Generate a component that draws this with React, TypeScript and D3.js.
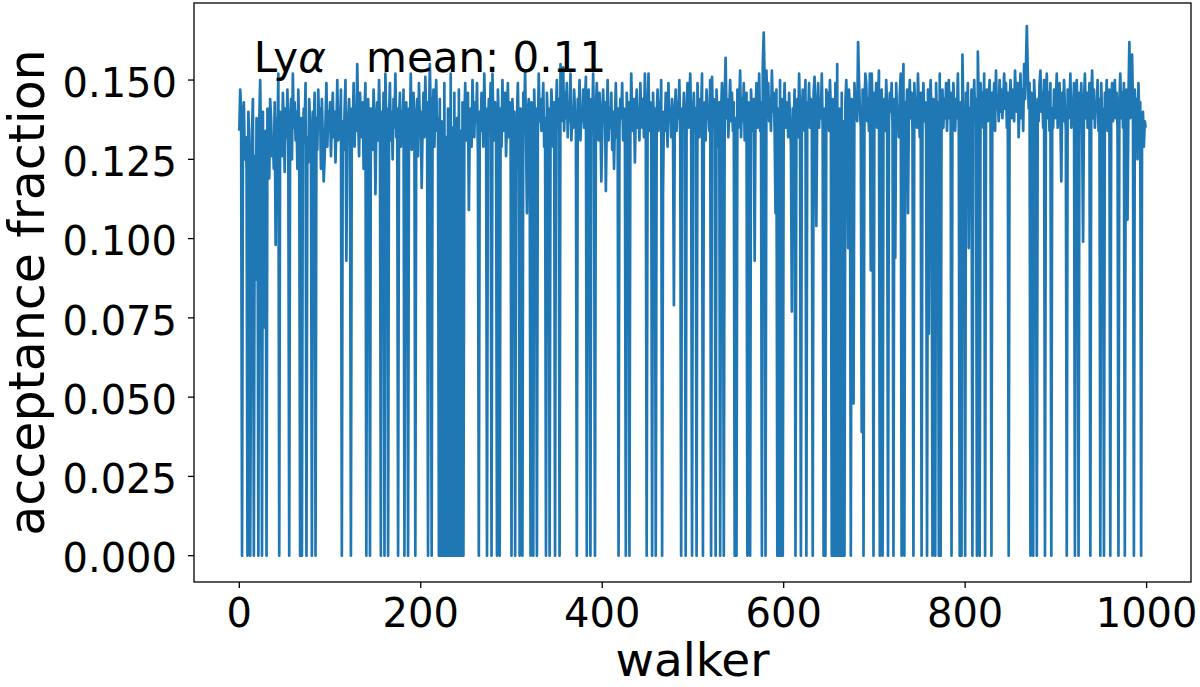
import * as d3 from "d3";

// acceptance fraction per walker (x1000)
const acceptance: number[] = [
  134, 147, 140, 0, 137, 143, 125, 132, 122, 0, 140, 129, 0, 83, 134, 144, 0, 126, 87, 138,
  131, 0, 137, 150, 128, 0, 140, 72, 124, 134, 0, 141, 135, 119, 144, 138, 126, 132, 122, 143,
  98, 138, 131, 152, 0, 140, 134, 126, 146, 137, 121, 141, 132, 147, 128, 0, 138, 144, 125, 152,
  135, 143, 131, 140, 122, 147, 134, 0, 138, 0, 129, 141, 135, 149, 0, 132, 124, 144, 137, 126,
  0, 140, 134, 146, 0, 138, 128, 147, 135, 141, 122, 144, 132, 118, 125, 137, 149, 129, 140, 134,
  143, 126, 137, 146, 132, 140, 124, 135, 150, 131, 141, 134, 147, 0, 137, 128, 140, 150, 93, 132,
  138, 144, 131, 0, 141, 135, 149, 129, 140, 134, 155, 137, 126, 146, 138, 132, 143, 122, 140, 149,
  0, 135, 144, 132, 0, 141, 137, 128, 147, 138, 114, 134, 143, 131, 150, 137, 0, 140, 129, 146,
  0, 152, 135, 141, 0, 138, 149, 131, 140, 125, 144, 135, 152, 132, 141, 0, 137, 146, 129, 140,
  134, 147, 0, 138, 143, 131, 0, 141, 135, 152, 128, 140, 146, 134, 0, 138, 144, 126, 149, 137,
  140, 116, 135, 146, 132, 151, 138, 143, 0, 134, 155, 140, 0, 137, 147, 129, 141, 150, 134, 138,
  0, 144, 0, 137, 0, 0, 149, 0, 132, 0, 141, 0, 0, 152, 0, 135, 0, 146, 0, 0,
  138, 0, 147, 0, 134, 0, 143, 0, 137, 149, 131, 140, 146, 109, 135, 141, 129, 150, 138, 132,
  143, 137, 149, 126, 0, 140, 134, 146, 138, 129, 152, 135, 141, 0, 132, 144, 137, 149, 0, 152,
  138, 131, 143, 135, 0, 147, 137, 0, 141, 129, 150, 134, 140, 146, 126, 138, 149, 132, 143, 137,
  0, 144, 135, 140, 0, 121, 138, 149, 131, 0, 141, 135, 0, 146, 137, 153, 132, 108, 140, 144,
  134, 0, 143, 138, 0, 147, 135, 141, 0, 131, 152, 137, 144, 134, 140, 149, 129, 138, 0, 146,
  137, 141, 0, 134, 147, 138, 129, 143, 0, 140, 150, 135, 144, 0, 155, 137, 141, 154, 134, 146,
  138, 149, 132, 143, 137, 152, 131, 141, 135, 147, 140, 134, 0, 144, 138, 150, 131, 141, 137, 147,
  135, 143, 151, 0, 140, 147, 134, 0, 144, 138, 152, 132, 0, 141, 149, 137, 131, 146, 140, 118,
  134, 147, 138, 143, 115, 137, 150, 131, 141, 135, 146, 128, 140, 122, 137, 149, 132, 141, 0, 135,
  144, 138, 149, 131, 141, 135, 0, 146, 137, 143, 0, 132, 152, 138, 134, 144, 124, 140, 147, 135,
  141, 131, 149, 138, 135, 144, 132, 152, 140, 0, 137, 152, 134, 143, 138, 0, 146, 135, 141, 0,
  138, 147, 134, 143, 137, 150, 0, 114, 140, 134, 146, 138, 129, 149, 137, 141, 132, 144, 135, 79,
  140, 147, 134, 143, 138, 150, 131, 0, 141, 137, 146, 134, 0, 140, 149, 135, 143, 152, 138, 0,
  137, 146, 134, 141, 0, 149, 138, 132, 144, 140, 152, 0, 135, 143, 131, 147, 138, 141, 134, 150,
  0, 151, 137, 144, 134, 0, 147, 138, 129, 143, 0, 140, 149, 135, 0, 146, 157, 138, 144, 132,
  141, 150, 137, 146, 134, 143, 0, 138, 0, 147, 135, 141, 153, 132, 144, 137, 149, 131, 140, 146,
  0, 143, 135, 0, 147, 138, 134, 144, 93, 140, 149, 135, 141, 152, 134, 143, 0, 155, 165, 150,
  0, 153, 141, 149, 137, 144, 134, 153, 140, 146, 135, 108, 147, 0, 141, 0, 150, 0, 144, 0,
  138, 149, 135, 143, 140, 132, 146, 137, 129, 77, 141, 134, 147, 0, 138, 144, 132, 152, 140, 0,
  137, 147, 141, 134, 150, 0, 143, 138, 149, 135, 144, 140, 0, 146, 151, 138, 104, 141, 149, 135,
  144, 138, 152, 134, 0, 141, 0, 147, 137, 146, 134, 150, 140, 0, 144, 0, 0, 149, 0, 155,
  0, 0, 141, 0, 146, 0, 137, 0, 143, 150, 138, 97, 147, 140, 0, 144, 135, 48, 149, 141,
  146, 137, 162, 150, 141, 135, 39, 147, 0, 140, 152, 149, 137, 144, 134, 152, 90, 152, 141, 0,
  146, 137, 149, 135, 143, 153, 0, 140, 147, 0, 138, 144, 134, 150, 141, 0, 137, 146, 140, 149,
  135, 0, 144, 94, 149, 138, 141, 132, 146, 152, 0, 140, 155, 0, 143, 137, 147, 108, 141, 150,
  138, 146, 134, 0, 149, 140, 144, 135, 152, 141, 132, 146, 0, 138, 149, 137, 143, 134, 0, 147,
  70, 141, 150, 137, 0, 144, 138, 0, 149, 135, 143, 0, 152, 0, 140, 147, 135, 144, 138, 149,
  134, 143, 150, 138, 146, 0, 137, 149, 141, 134, 144, 138, 152, 135, 0, 143, 0, 158, 141, 134,
  0, 146, 138, 149, 97, 141, 135, 147, 0, 140, 150, 137, 144, 0, 159, 143, 0, 149, 138, 146,
  135, 152, 0, 141, 147, 137, 144, 150, 138, 0, 146, 140, 149, 134, 153, 141, 144, 137, 150, 140,
  147, 138, 144, 152, 141, 149, 135, 146, 0, 143, 150, 138, 147, 141, 137, 153, 144, 140, 149, 132,
  143, 152, 138, 147, 134, 155, 144, 154, 167, 153, 141, 149, 0, 146, 138, 0, 150, 143, 134, 0,
  144, 137, 149, 153, 140, 146, 135, 150, 0, 143, 152, 138, 146, 134, 149, 0, 141, 135, 147, 138,
  144, 152, 135, 143, 149, 138, 118, 146, 137, 150, 141, 134, 0, 147, 138, 143, 152, 135, 144, 140,
  149, 0, 141, 150, 137, 0, 146, 140, 149, 134, 99, 143, 152, 138, 146, 135, 141, 149, 0, 144,
  153, 138, 147, 135, 143, 140, 150, 134, 144, 0, 149, 137, 141, 0, 146, 138, 150, 134, 143, 147,
  0, 141, 149, 137, 144, 150, 138, 146, 134, 0, 143, 152, 138, 146, 135, 149, 0, 141, 147, 106,
  144, 162, 138, 150, 158, 141, 0, 147, 137, 144, 125, 149, 138, 143, 0, 134, 140, 129, 137, 135,
];

const xTicks = [0, 200, 400, 600, 800, 1000];
const yTicks = [0, 0.025, 0.05, 0.075, 0.1, 0.125, 0.15];
const xLabel = "walker";
const yLabel = "acceptance fraction";
const annotation = { name: "Ly", greek: "α", rest: "   mean: 0.11" };

const width = 1200;
const height = 687;
const left = 194;
const right = 1191;
const top = 3;
const bottom = 582;
const font = "DejaVu Sans, sans-serif";

export default function App() {
  const points = acceptance.map((v, i) => ({ walker: i, value: v / 1000 }));

  const x = d3.scaleLinear().domain([-49.95, 1048.95]).range([left, right]);
  const y = d3.scaleLinear().domain([-0.0083, 0.1743]).range([bottom, top]);

  const line = d3
    .line<{ walker: number; value: number }>()
    .x((d) => x(d.walker))
    .y((d) => y(d.value));

  return (
    <svg
      width={width}
      height={height}
      style={{ position: "absolute", left: 0, top: 0, background: "#fff" }}
      fontFamily={font}
    >
      <path d={line(points) ?? ""} fill="none" stroke="#1f77b4" strokeWidth={2.7} strokeLinejoin="round" />

      <rect x={left} y={top} width={right - left} height={bottom - top} fill="none" stroke="#000" strokeWidth={1.3} />

      {/* y axis */}
      {yTicks.map((t) => (
        <g key={t}>
          <line x1={left - 6} x2={left} y1={y(t)} y2={y(t)} stroke="#000" strokeWidth={1.3} />
          <text x={left - 17} y={y(t)} dy="0.42em" textAnchor="end" fontSize={40}>
            {t.toFixed(3)}
          </text>
        </g>
      ))}

      {/* x axis */}
      {xTicks.map((t) => (
        <g key={t}>
          <line x1={x(t)} x2={x(t)} y1={bottom} y2={bottom + 6} stroke="#000" strokeWidth={1.3} />
          <text x={x(t)} y={bottom + 45} textAnchor="middle" fontSize={40}>
            {t}
          </text>
        </g>
      ))}

      <text x={(left + right) / 2} y={676} textAnchor="middle" fontSize={47}>
        {xLabel}
      </text>
      <text
        transform={`translate(44,${(top + bottom) / 2}) rotate(-90)`}
        textAnchor="middle"
        fontSize={49}
      >
        {yLabel}
      </text>

      <text x={x(16)} y={y(0.1525)} fontSize={42} style={{ whiteSpace: "pre" }}>
        {annotation.name}
        <tspan fontStyle="italic">{annotation.greek}</tspan>
        {annotation.rest}
      </text>
    </svg>
  );
}
